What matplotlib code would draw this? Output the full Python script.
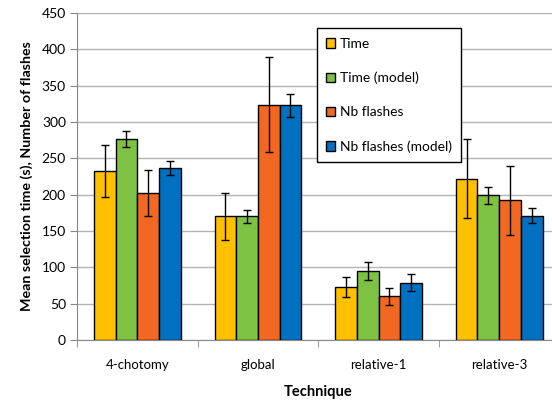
import numpy as np
import matplotlib
matplotlib.use('Agg')
import matplotlib.pyplot as plt

plt.rcParams['font.family'] = ['Lato', 'DejaVu Sans']

techniques = ['4-chotomy', 'global', 'relative-1', 'relative-3']
series = ['Time', 'Time (model)', 'Nb flashes', 'Nb flashes (model)']
colors = ['#FFC000', '#7DC242', '#F26722', '#0070C0']

time_vals = [233, 170, 73, 222]
time_err = [36, 33, 14, 54]
time_model = [276, 170, 95, 199]
time_model_err = [11, 8.5, 13, 11.5]
nb_vals = [202, 324, 60, 192]
nb_err = [32, 65, 12, 48]
nb_model = [237, 323, 79, 171]
nb_model_err = [9.5, 15.5, 12, 10.5]

values = [time_vals, time_model, nb_vals, nb_model]
errors = [time_err, time_model_err, nb_err, nb_model_err]

fig = plt.figure(figsize=(5.52, 4.08), dpi=100)
ax = fig.add_axes([0.1395, 0.1667, 0.874, 0.8013])

x = np.arange(len(techniques))
w = 0.18
offsets = [-1.5 * w, -0.5 * w, 0.5 * w, 1.5 * w]

for vals, errs, col, off, name in zip(values, errors, colors, offsets, series):
    ax.bar(x + off, vals, w, color=col, edgecolor='black', linewidth=1,
           label=name, zorder=3)
    ax.errorbar(x + off, vals, yerr=errs, fmt='none', ecolor='black',
                elinewidth=1, capsize=3, capthick=1, zorder=4)

ax.set_xlim(-0.5, 3.5)
ax.set_ylim(0, 450)
ax.set_yticks(range(0, 451, 50))
ax.yaxis.grid(True, color='#b3b3b3', linewidth=1, zorder=0)
ax.set_axisbelow(True)

ax.set_xticks(x)
ax.set_xticklabels(techniques)
ax.set_xticks([-0.5, 0.5, 1.5, 2.5], minor=True)
ax.tick_params(axis='x', which='major', length=0, pad=14, labelsize=9.5)
ax.tick_params(axis='x', which='minor', length=5, color='#888888', direction='out')
ax.tick_params(axis='y', length=5, color='#888888', labelsize=10, pad=3)

for s in ['top', 'right']:
    ax.spines[s].set_visible(False)
for s in ['left', 'bottom']:
    ax.spines[s].set_color('#888888')

ax.set_ylabel('Mean selection time (s), Number of flashes', fontsize=10.3,
              fontweight='bold', labelpad=6)
ax.set_xlabel('Technique', fontsize=10.5, fontweight='bold', labelpad=10)

leg = ax.legend(loc='upper left', bbox_to_anchor=(0.574, 0.931),
                bbox_transform=fig.transFigure, frameon=True, fancybox=False,
                edgecolor='black', fontsize=9.9, labelspacing=1.6,
                handlelength=0.65, handleheight=0.65, handletextpad=0.3,
                borderpad=0.7, borderaxespad=0)
leg.get_frame().set_linewidth(1)
leg.get_frame().set_alpha(1)

fig.savefig('out.png', dpi=100)
